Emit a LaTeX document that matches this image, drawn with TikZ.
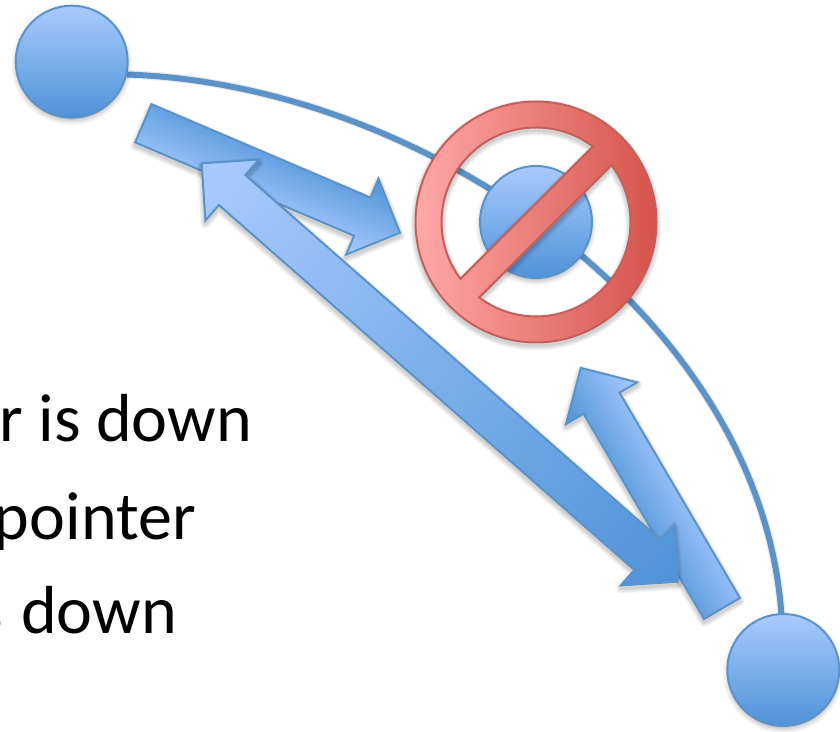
\documentclass[tikz,border=0pt]{standalone}
\usepackage{fontspec}
\setmainfont{Carlito}
\usetikzlibrary{shadows.blur,backgrounds}
\definecolor{rimblue}{HTML}{5B93C9}
\definecolor{lightblue}{HTML}{A8CBFD}
\definecolor{darkblue}{HTML}{4F92D9}
\definecolor{lightred}{HTML}{FFA8A8}
\definecolor{darkred}{HTML}{D6534A}
\definecolor{rimred}{HTML}{C4605C}
\newcommand{\signpath}{(536,509) circle (120.5)
  (536,509) ++(53:94.5) arc[start angle=53, end angle=217, radius=94.5] -- cycle
  (536,509) ++(233:94.5) arc[start angle=233, end angle=397, radius=94.5] -- cycle}
\newcommand{\singlepath}{(0,20.8) -- (238,20.8) -- (238,41.3) -- (279,0) -- (238,-41.3) -- (238,-20.8) -- (0,-20.8) -- cycle}
\newcommand{\doublepath}{(0,0) -- (40.5,40.5) -- (40.5,20) -- (593.5,20) -- (593.5,40.5) -- (634,0)
  -- (593.5,-40.5) -- (593.5,-20) -- (40.5,-20) -- (40.5,-40.5) -- cycle}
\tikzset{
  site/.style={circle, draw=rimblue, line width=2pt, inner sep=0pt, minimum size=112pt,
               top color=lightblue, bottom color=darkblue,
               blur shadow={shadow xshift=0pt, shadow yshift=-3pt, shadow blur radius=5pt, shadow opacity=30}},
  link/.style={draw=rimblue, line width=6pt, preaction={draw=black, opacity=.08, line width=8.5pt}},
  placed/.style n args={3}{transform canvas={shift={(#1,#2)}, rotate=#3}},
  blockarrow/.style={draw=rimblue, line width=2pt},
  haze/.style={draw=black, opacity=.04, line join=round},
  bullet/.style={anchor=base east, inner sep=0pt, font=\fontsize{68}{68}\selectfont}
}
\begin{document}
\begin{tikzpicture}[x=1pt,y=1pt]
\useasboundingbox (0,0) rectangle (840,731);
% text runs off the left edge
\node[bullet] (lineone) at (252,289) {r is down};
\node[bullet] (linetwo) at (196,191) {pointer};
\node[bullet] (linethree) at (177,98) {s\hspace{2.5pt} down};
% sites and the link between them
\node[site] (topsite) at (71.7,669.3) {};
\node[site] (midsite) at (536,509) {};
\node[site] (endsite) at (783.3,61) {};
\begin{pgfonlayer}{background}
\draw[link] (topsite.-13) .. controls (430,646) and (760,411) .. (endsite.92);
\end{pgfonlayer}
% arrows
\foreach \w in {2,4,6,8,10}
  \path[haze, line width=\w pt, placed={722}{119.5}{120.4}] \singlepath;
\draw[blockarrow, top color=darkblue, bottom color=lightblue, placed={722}{122.5}{120.4}] \singlepath;
\foreach \w in {2,4,6,8,10}
  \path[haze, line width=\w pt, placed={143.35}{604.7}{-23.1}] \singlepath;
\draw[blockarrow, top color=darkblue, bottom color=lightblue, placed={143.35}{607.7}{-23.1}] \singlepath;
\foreach \w in {2,4,6,8,10}
  \path[haze, line width=\w pt, placed={201.7}{564.7}{-41.3}] \doublepath;
\draw[blockarrow, left color=lightblue, right color=darkblue, placed={201.7}{567.7}{-41.3}] \doublepath;
% forbidden sign
\foreach \w in {2,4,6,8,10}
  \path[haze, line width=\w pt, yshift=-3pt] \signpath;
\path[even odd rule, draw=rimred, line width=2pt, left color=lightred, right color=darkred] \signpath;
\end{tikzpicture}
\end{document}
